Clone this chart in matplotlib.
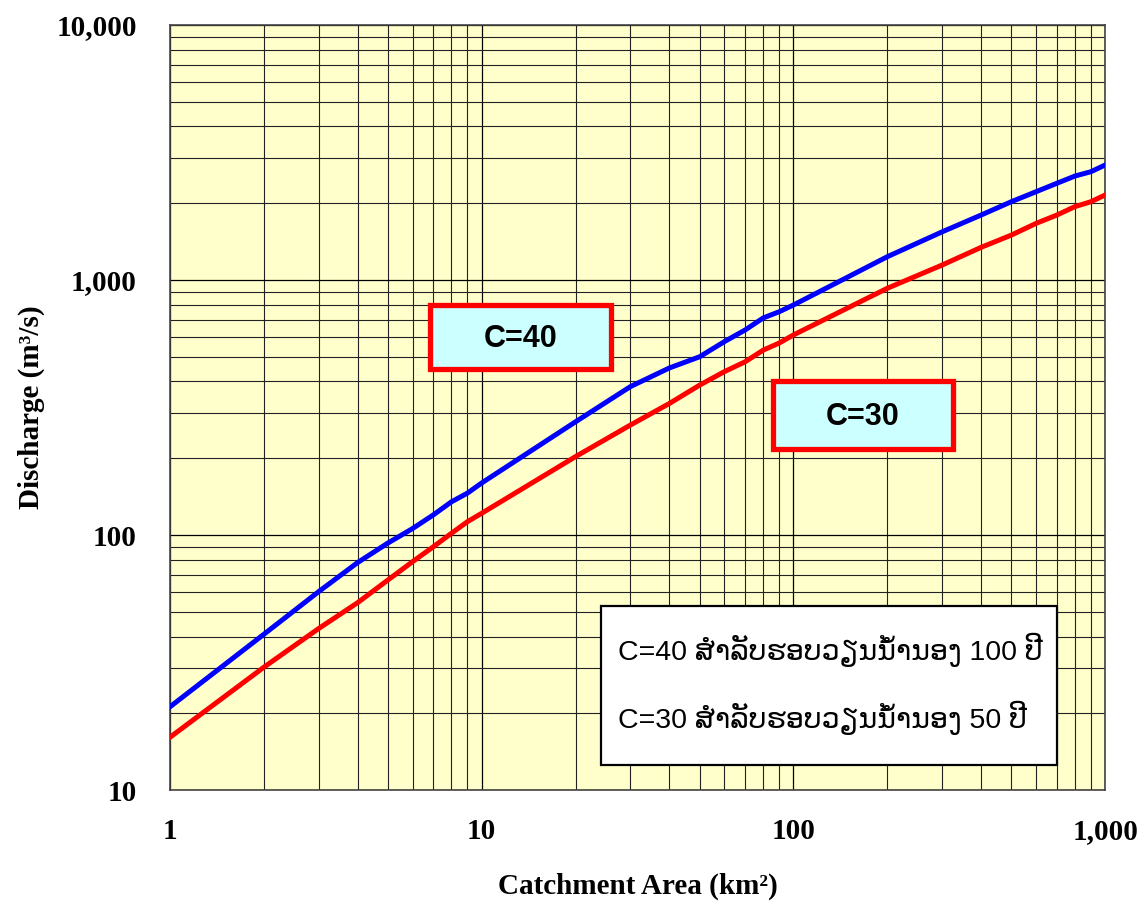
import matplotlib
matplotlib.use("Agg")
import matplotlib.pyplot as plt
from matplotlib.patches import Rectangle
from matplotlib.ticker import FixedLocator, FuncFormatter, NullFormatter

# Data
area = [1, 2, 3, 4, 5, 6, 7, 8, 9, 10, 20, 30, 40, 50, 60, 70, 80, 90, 100,
        200, 300, 400, 500, 600, 700, 800, 900, 1000]
q_c40 = [21.2, 40.8, 60, 78, 93, 106, 120, 135, 146, 160, 278, 382, 452, 500,
         573, 637, 710, 751, 798, 1234, 1545, 1798, 2028, 2219, 2395, 2557,
         2659, 2825]
q_c30 = [16.1, 30.3, 43, 54.3, 66.6, 78.6, 90, 101.6, 112.8, 121.7, 203, 270,
         328, 387, 437, 478, 531, 566, 609, 928, 1145, 1343, 1500, 1667, 1798,
         1940, 2028, 2155]

x_ticks = [1, 10, 100, 1000]
y_ticks = [10, 100, 1000, 10000]
xlabel = "Catchment Area (km²)"
ylabel = "Discharge (m³/s)"
box_labels = ["C=40", "C=30"]
legend_lines = ["C=40 ສຳລັບຮອບວຽນນ້ຳນອງ 100 ປີ",
                "C=30 ສຳລັບຮອບວຽນນ້ຳນອງ 50 ປີ"]

fig = plt.figure(figsize=(11.37, 9.06), dpi=100)
ax = fig.add_axes([0.1495, 0.128, 0.8225, 0.8444])
ax.set_facecolor("#FFFFCC")
ax.set_xscale("log")
ax.set_yscale("log")
ax.set_xlim(1, 1000)
ax.set_ylim(10, 10000)

minor = [m * 10 ** e for e in range(0, 4) for m in range(2, 10)]
ax.xaxis.set_major_locator(FixedLocator(x_ticks))
ax.yaxis.set_major_locator(FixedLocator(y_ticks))
ax.xaxis.set_minor_locator(FixedLocator([v for v in minor if v < 1000]))
ax.yaxis.set_minor_locator(FixedLocator([v * 10 for v in minor if v * 10 < 10000]))
ax.xaxis.set_minor_formatter(NullFormatter())
ax.yaxis.set_minor_formatter(NullFormatter())
fmt = FuncFormatter(lambda v, p: f"{int(round(v)):,}")
ax.xaxis.set_major_formatter(fmt)
ax.yaxis.set_major_formatter(fmt)

ax.grid(True, which="major", color="black", lw=0.9)
ax.grid(True, which="minor", color="#222222", lw=0.8)
ax.set_axisbelow(True)

ax.tick_params(which="both", length=0)
ax.tick_params(axis="x", pad=20)
ax.tick_params(axis="y", pad=24)
for lab in ax.get_xticklabels() + ax.get_yticklabels():
    lab.set_fontfamily("Liberation Serif")
    lab.set_fontweight("bold")
    lab.set_fontsize(21)

for s in ax.spines.values():
    s.set_color("#444444")
    s.set_linewidth(1.2)

ax.plot(area, q_c40, color="#0000FF", lw=3.6, solid_joinstyle="round", zorder=3)
ax.plot(area, q_c30, color="#FF0000", lw=3.6, solid_joinstyle="round", zorder=3)

ax.set_xlabel(xlabel, fontfamily="Liberation Serif", fontweight="bold",
              fontsize=21, labelpad=20)
ax.set_ylabel(ylabel, fontfamily="Liberation Serif", fontweight="bold",
              fontsize=21, labelpad=8)

# Label boxes
boxes = [(0.278, 0.5503, 0.1937, 0.0837, 0.375, 0.590),
         (0.645, 0.4458, 0.1924, 0.0888, 0.741, 0.488)]
for (x0, y0, w, h, tx, ty), lab in zip(boxes, box_labels):
    ax.add_patch(Rectangle((x0, y0), w, h, transform=ax.transAxes,
                           facecolor="#CCFFFF", edgecolor="#FF0000", lw=3.8,
                           zorder=5))
    ax.text(tx, ty, lab, transform=ax.transAxes, ha="center", va="center",
            fontsize=22, fontweight="bold", fontfamily="Liberation Sans",
            zorder=6)

# Legend-like text box
ax.add_patch(Rectangle((0.461, 0.0327), 0.4877, 0.2078, transform=ax.transAxes,
                       facecolor="white", edgecolor="black", lw=1.6, zorder=5))
for yy, line in zip([0.183, 0.094], legend_lines):
    ax.text(0.479, yy, line, transform=ax.transAxes, ha="left", va="center",
            fontsize=20.5, family=["Liberation Sans", "DejaVu Sans"], zorder=6)

fig.savefig("out.png", dpi=100)
